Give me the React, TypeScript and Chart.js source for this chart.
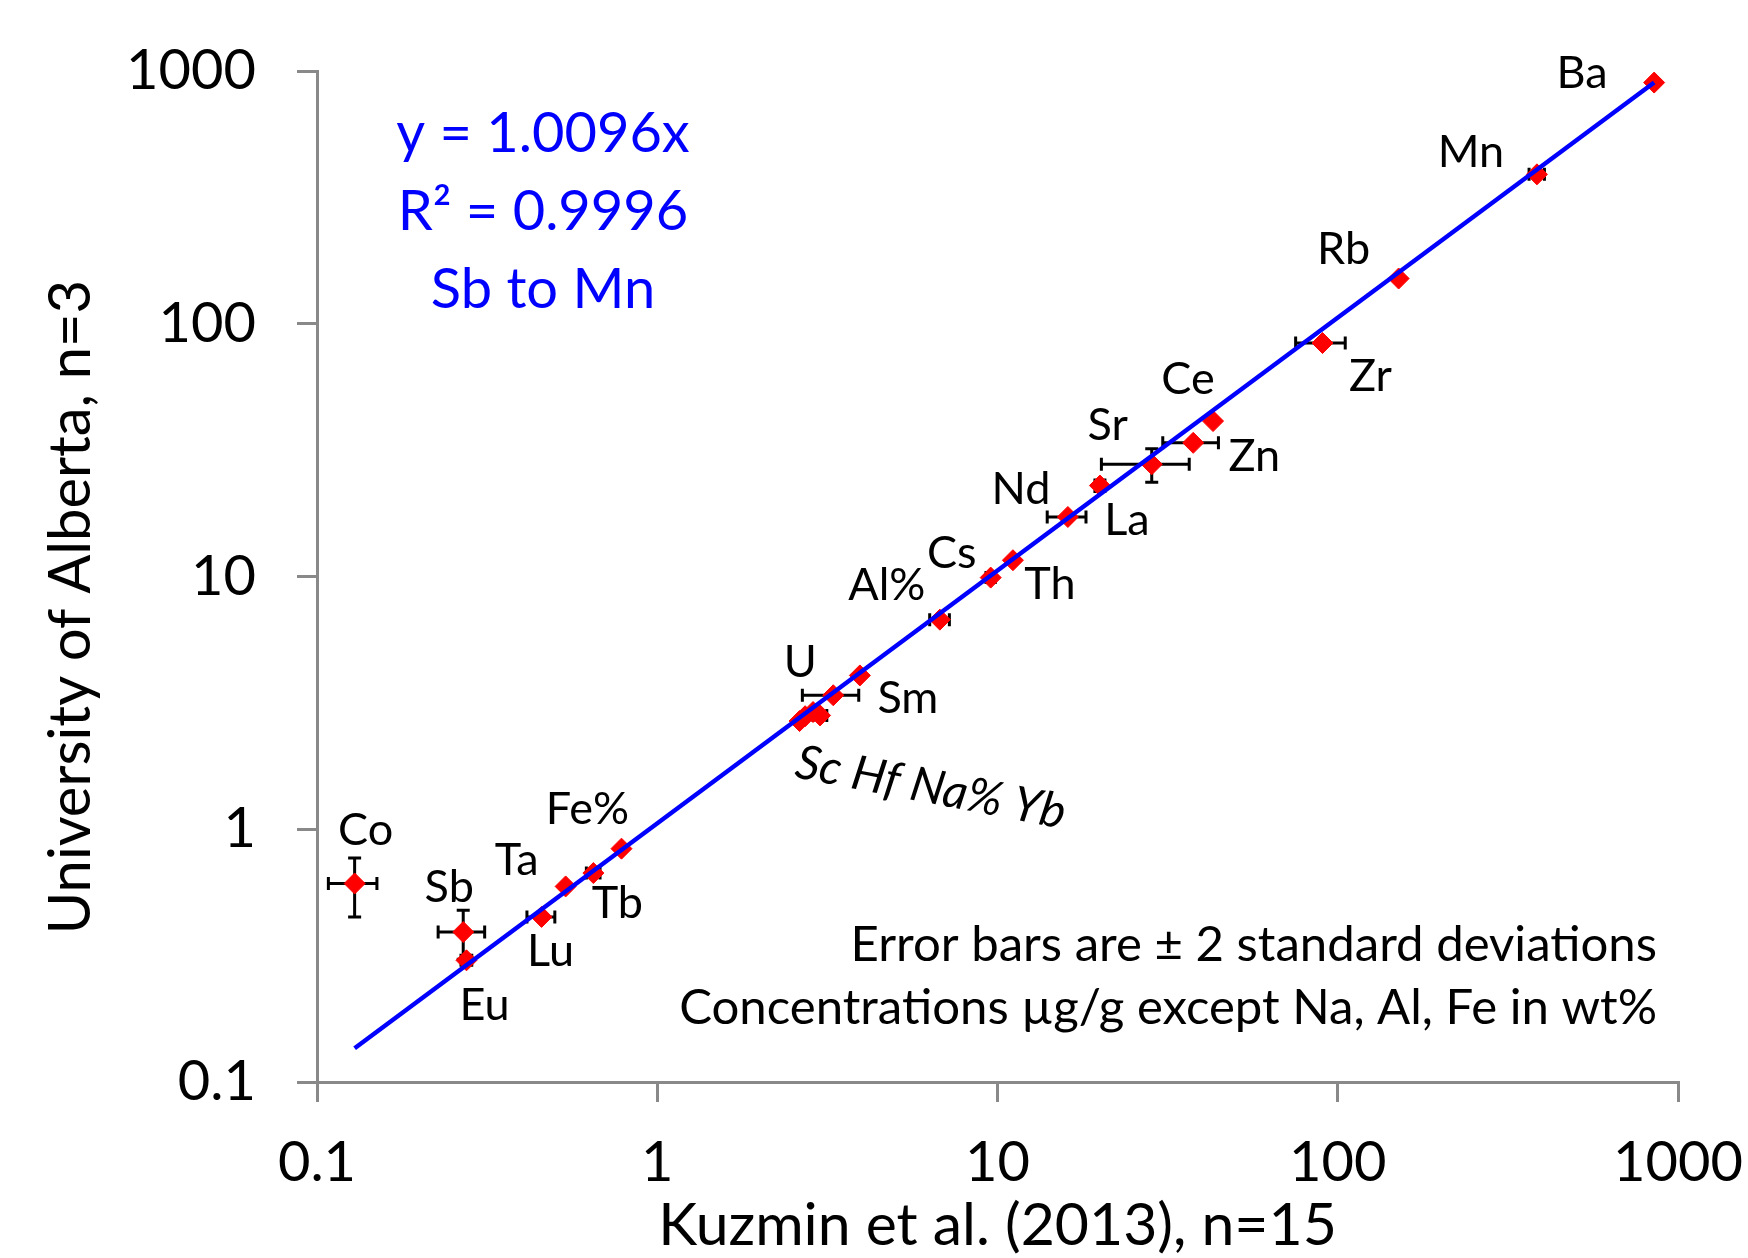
import React, { useEffect, useRef } from "react";
import { Chart, registerables } from "chart.js";

Chart.register(...registerables);

// ---------- data ----------
const elements = ["Co", "Sb", "Eu", "Lu", "Ta", "Tb", "Fe%", "Sc", "Yb", "Hf", "Na%", "U", "Sm", "Al%", "Cs", "Th", "La", "Nd", "Sr", "Zn", "Ce", "Zr", "Rb", "Mn", "Ba"];
const kuzmin = [0.129, 0.269, 0.275, 0.457, 0.538, 0.649, 0.785, 2.62, 2.72, 2.87, 3.01, 3.29, 3.94, 6.77, 9.55, 11.1, 16.1, 20.0, 28.4, 37.6, 43.0, 90.2, 151, 385, 851];
const alberta = [0.61, 0.392, 0.303, 0.45, 0.594, 0.671, 0.838, 2.68, 2.8, 2.91, 2.82, 3.39, 4.06, 6.75, 9.9, 11.6, 17.2, 22.9, 27.8, 33.8, 41.2, 83.9, 151, 390, 900];
const kuzminErr = [0.021, 0.042, 0.01, 0.043, 0, 0.03, 0, 0, 0, 0, 0.14, 0.62, 0, 0.45, 0.3, 0, 2.1, 0, 8.2, 7.0, 0, 15, 0, 20, 15];
const albertaErr = [0.16, 0.086, 0, 0, 0, 0, 0, 0, 0, 0, 0, 0, 0, 0, 0, 0, 0, 1.2, 4.2, 0, 0, 0, 0, 0, 0];

const trendX = [0.129, 851];
const trendY = [0.136, 900];

const tickValues = [0.1, 1, 10, 100, 1000];
const tickLabels = ["0.1", "1", "10", "100", "1000"];

const fitLines = ["y = 1.0096x", "R\u00B2 = 0.9996", "Sb to Mn"];
const noteLines = ["Error bars are \u00B1 2 standard deviations", "Concentrations \u00B5g/g except Na, Al, Fe in wt%"];
const xTitle = "Kuzmin et al. (2013), n=15";
const yTitle = "University of Alberta, n=3";
const groupLabel = "Sc Hf Na% Yb";

// ---------- layout / style ----------
const W = 1748;
const H = 1258;
const FONT = "Lato";
const AXIS_GREY = "#898989";

// label centre offsets (px) from each point
const labelOffsets: Record<string, [number, number]> = {
  Co: [11, -55], Sb: [-14, -46], Eu: [18, 44], Lu: [9, 33], Ta: [-49, -28], Tb: [24, 29], "Fe%": [-34, -41],
  U: [-33, -34], Sm: [48, 21], "Al%": [-53, -36], Cs: [-39, -26], Th: [37, 23], La: [59, 2], Nd: [-79, 2],
  Sr: [-44, -40], Zn: [61, 12], Ce: [-25, -43], Zr: [48, 32], Rb: [-55, -31], Mn: [-66, -23], Ba: [-72, -11],
};
const groupAnchor = "Hf";
const groupOffset: [number, number] = [118, 74];
const groupAngle = 0.19;

function inkWidth(ctx: CanvasRenderingContext2D, text: string) {
  const m = ctx.measureText(text);
  return m.actualBoundingBoxLeft + m.actualBoundingBoxRight;
}
function fitSize(ctx: CanvasRenderingContext2D, text: string, target: number, style = "") {
  ctx.font = `${style} 100px ${FONT}`;
  return (100 * target) / inkWidth(ctx, text);
}

const textPlugin = {
  id: "textPlugin",
  beforeDatasetsDraw(chart: any) {
    const ctx: CanvasRenderingContext2D = chart.ctx;
    const xs = chart.scales.x;
    const ys = chart.scales.y;
    ctx.save();
    ctx.strokeStyle = "#000";
    ctx.lineWidth = 3;
    const cap = 6.5;
    for (let i = 0; i < elements.length; i++) {
      const px = xs.getPixelForValue(kuzmin[i]);
      const py = ys.getPixelForValue(alberta[i]);
      if (kuzminErr[i] > 0) {
        const x1 = xs.getPixelForValue(kuzmin[i] - kuzminErr[i]);
        const x2 = xs.getPixelForValue(kuzmin[i] + kuzminErr[i]);
        ctx.beginPath();
        ctx.moveTo(x1, py); ctx.lineTo(x2, py);
        ctx.moveTo(x1, py - cap); ctx.lineTo(x1, py + cap);
        ctx.moveTo(x2, py - cap); ctx.lineTo(x2, py + cap);
        ctx.stroke();
      }
      if (albertaErr[i] > 0) {
        const y1 = ys.getPixelForValue(alberta[i] - albertaErr[i]);
        const y2 = ys.getPixelForValue(alberta[i] + albertaErr[i]);
        ctx.beginPath();
        ctx.moveTo(px, y1); ctx.lineTo(px, y2);
        ctx.moveTo(px - cap, y1); ctx.lineTo(px + cap, y1);
        ctx.moveTo(px - cap, y2); ctx.lineTo(px + cap, y2);
        ctx.stroke();
      }
    }
    ctx.restore();
  },
  afterDraw(chart: any) {
    const ctx: CanvasRenderingContext2D = chart.ctx;
    const xs = chart.scales.x;
    const ys = chart.scales.y;
    const area = chart.chartArea;
    ctx.save();
    ctx.fillStyle = "#000";
    ctx.textBaseline = "alphabetic";
    ctx.textAlign = "center";

    // point labels
    const lblSize = 45;
    const capH = lblSize * 0.7165;
    ctx.font = `${lblSize}px ${FONT}`;
    for (let i = 0; i < elements.length; i++) {
      const off = labelOffsets[elements[i]];
      if (!off) continue;
      const px = xs.getPixelForValue(kuzmin[i]);
      const py = ys.getPixelForValue(alberta[i]);
      ctx.fillText(elements[i], px + off[0], py + off[1] + capH / 2);
    }
    // rotated group label
    const gi = elements.indexOf(groupAnchor);
    const gx = xs.getPixelForValue(kuzmin[gi]) + groupOffset[0];
    const gy = ys.getPixelForValue(alberta[gi]) + groupOffset[1];
    ctx.save();
    ctx.translate(gx, gy);
    ctx.rotate(groupAngle);
    const gSize = fitSize(ctx, groupLabel, 272, "italic");
    ctx.font = `italic ${gSize}px ${FONT}`;
    ctx.fillText(groupLabel, 0, (gSize * 0.7165) / 2);
    ctx.restore();

    // fit equation (blue)
    ctx.fillStyle = "#0000FF";
    ctx.font = `56px ${FONT}`;
    const eqX = area.left + 226;
    const eqBase = [81, 159, 237];
    fitLines.forEach((t, i) => ctx.fillText(t, eqX, area.top + eqBase[i]));

    // notes
    ctx.fillStyle = "#000";
    const noteSize = fitSize(ctx, noteLines[1], 974);
    ctx.font = `${noteSize}px ${FONT}`;
    ctx.textAlign = "right";
    ctx.fillText(noteLines[0], area.right - 21, area.bottom - 121);
    ctx.fillText(noteLines[1], area.right - 21, area.bottom - 58);

    // axis titles
    ctx.textAlign = "center";
    const xtSize = fitSize(ctx, xTitle, 670);
    ctx.font = `${xtSize}px ${FONT}`;
    ctx.fillText(xTitle, (area.left + area.right) / 2, area.bottom + 163);

    const ytSize = fitSize(ctx, yTitle, 647);
    ctx.font = `${ytSize}px ${FONT}`;
    ctx.save();
    ctx.translate(90, 607);
    ctx.rotate(-Math.PI / 2);
    ctx.fillText(yTitle, 0, 0);
    ctx.restore();

    ctx.restore();
  },
};

export default function App() {
  const ref = useRef<HTMLCanvasElement>(null);
  useEffect(() => {
    const canvas = ref.current;
    if (!canvas) return;
    const points = kuzmin.map((x, i) => ({ x, y: alberta[i] }));
    const trend = trendX.map((x, i) => ({ x, y: trendY[i] }));
    const tickFont = { family: FONT, size: 56, lineHeight: 1 };
    const chart = new Chart(canvas, {
      type: "scatter",
      data: {
        datasets: [
          {
            label: "trend",
            data: trend,
            showLine: true,
            borderColor: "#0000FF",
            borderWidth: 4.5,
            pointRadius: 0,
            order: 0,
          } as any,
          {
            label: "data",
            data: points,
            pointStyle: "rectRot",
            pointRadius: 10.5,
            pointBackgroundColor: "#FF0000",
            pointBorderColor: "#FF0000",
            pointBorderWidth: 1,
            order: 1,
          } as any,
        ],
      },
      options: {
        responsive: false,
        animation: false,
        devicePixelRatio: 1,
        layout: { padding: { left: 0, top: 71, right: 70, bottom: 0 } },
        plugins: { legend: { display: false }, tooltip: { enabled: false } },
        scales: {
          x: {
            type: "logarithmic",
            position: "bottom",
            min: 0.1,
            max: 1000,
            afterBuildTicks: (s: any) => { s.ticks = tickValues.map((v) => ({ value: v })); },
            afterFit: (s: any) => {
              s.height = 176;
              s.paddingLeft = 0; s.paddingRight = 0; s.paddingTop = 0; s.paddingBottom = 0;
            },
            ticks: {
              callback: (_v: any, i: number) => tickLabels[i],
              font: tickFont,
              color: "#000",
              padding: 33,
              autoSkip: false,
              maxRotation: 0,
              minRotation: 0,
            },
            grid: { drawOnChartArea: false, drawTicks: true, tickLength: 20, color: AXIS_GREY, lineWidth: 3 },
            border: { display: true, color: AXIS_GREY, width: 3 },
          },
          y: {
            type: "logarithmic",
            position: "left",
            min: 0.1,
            max: 1000,
            afterBuildTicks: (s: any) => { s.ticks = tickValues.map((v) => ({ value: v })); },
            afterFit: (s: any) => {
              s.width = 317;
              s.paddingLeft = 0; s.paddingRight = 0; s.paddingTop = 0; s.paddingBottom = 0;
            },
            ticks: {
              callback: (_v: any, i: number) => tickLabels[i],
              font: tickFont,
              color: "#000",
              padding: 41,
              autoSkip: false,
            },
            grid: { drawOnChartArea: false, drawTicks: true, tickLength: 20, color: AXIS_GREY, lineWidth: 3 },
            border: { display: true, color: AXIS_GREY, width: 3 },
          },
        },
      } as any,
      plugins: [textPlugin as any],
    });
    return () => chart.destroy();
  }, []);
  return (
    <div style={{ position: "absolute", left: 0, top: 0, width: W, height: H, background: "#fff" }}>
      <canvas ref={ref} width={W} height={H} style={{ width: W, height: H, display: "block" }} />
    </div>
  );
}
